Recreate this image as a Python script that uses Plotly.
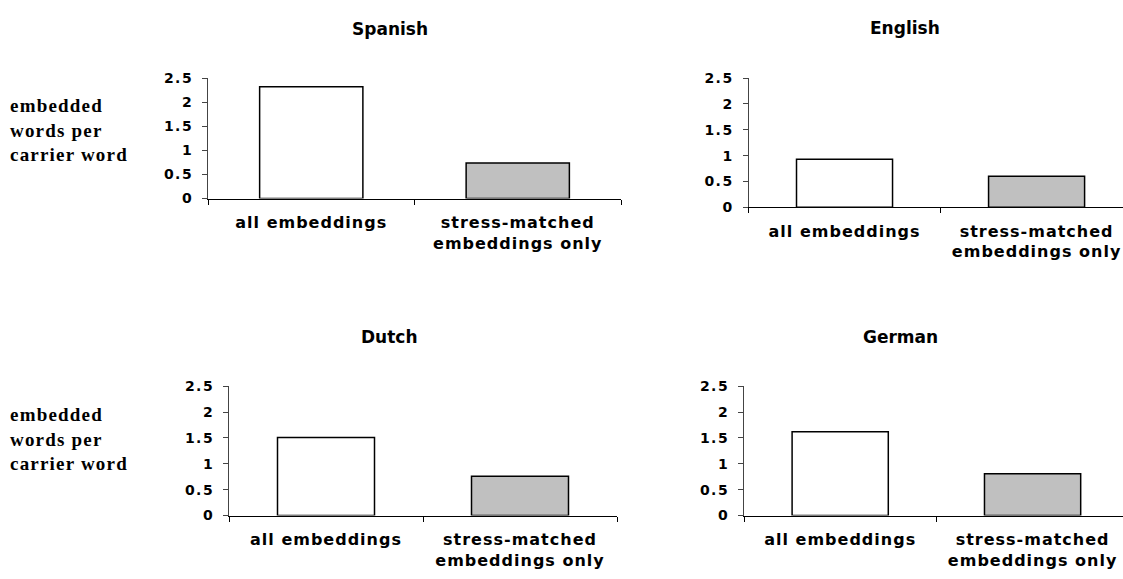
import plotly.graph_objects as go

# ---- data ----
languages = ["Spanish", "English", "Dutch", "German"]
categories = ["all embeddings", "stress-matched<br>embeddings only"]
all_embeddings = [2.32, 0.93, 1.51, 1.62]
stress_matched = [0.74, 0.60, 0.76, 0.81]
y_ticks = [0, 0.5, 1, 1.5, 2, 2.5]
y_label = "embedded<br>words per<br>carrier word"
bar_colors = ["#FFFFFF", "#C0C0C0"]

W, H = 1123, 579

# panel layout in pixels: (x0, x1, y_top, y_bottom, x_range_max)
panels = [
    (208, 621, 72, 196, 1.5),
    (748.5, 1123, 72, 205, 1.45),
    (229, 617, 389, 522, 1.5),
    (744, 1123, 389, 522, 1.47),
]
title_pos = [(389.5, 22), (905, 21), (389.5, 338), (900, 338)]
ylabel_pos = [(8, 125), (8, 443)]

fig = go.Figure()
layout = dict(
    width=W, height=H,
    margin=dict(l=0, r=0, t=0, b=0),
    paper_bgcolor="white", plot_bgcolor="white",
    showlegend=False, bargap=0.5,
    annotations=[],
)

tickfont = dict(family="DejaVu Sans", size=14, color="black", weight="bold")
catfont = dict(family="DejaVu Sans", size=16, color="black", weight="bold")

for i, lang in enumerate(languages):
    n = "" if i == 0 else str(i + 1)
    x0, x1, yt, yb, xmax = panels[i]
    fig.add_trace(go.Bar(
        x=categories,
        y=[all_embeddings[i], stress_matched[i]],
        marker=dict(color=bar_colors, line=dict(color="black", width=1.5)),
        xaxis="x" + n, yaxis="y" + n,
        hoverinfo="skip",
    ))
    layout["xaxis" + n] = dict(
        domain=[x0 / W, x1 / W], anchor="y" + n,
        type="category", range=[-0.5, xmax],
        showline=True, linecolor="black", linewidth=1,
        ticks="outside", tickson="boundaries", ticklen=5, tickcolor="black",
        tickfont=catfont, showgrid=False, zeroline=False, fixedrange=True,
        ticklabelstandoff=9,
    )
    layout["yaxis" + n] = dict(
        domain=[1 - yb / H, 1 - yt / H], anchor="x" + n,
        range=[0, 2.5], tickvals=y_ticks,
        showline=True, linecolor="#444444", linewidth=1,
        ticks="outside", ticklen=5, tickcolor="#444444",
        tickfont=tickfont, showgrid=False, zeroline=False, fixedrange=True,
        ticklabelstandoff=6,
    )
    tx, ty = title_pos[i]
    layout["annotations"].append(dict(
        text=lang, x=tx / W, y=1 - ty / H, xref="paper", yref="paper",
        xanchor="center", yanchor="middle", showarrow=False,
        font=dict(family="DejaVu Sans", size=17, color="black", weight="bold"),
    ))

for (lx, ly) in ylabel_pos:
    layout["annotations"].append(dict(
        text=y_label, x=lx / W, y=1 - ly / H, xref="paper", yref="paper",
        xanchor="left", yanchor="middle", align="left", showarrow=False,
        font=dict(family="Liberation Serif", size=19, color="black", weight="bold"),
    ))

fig.update_layout(**layout)

post = """
document.body.style.margin = '0';
document.body.style.overflow = 'hidden';
var gd = document.getElementById('{plot_id}');
function applySpacing(){
  gd.querySelectorAll('.xaxislayer-above text').forEach(function(t){ t.style.letterSpacing='1px'; });
  gd.querySelectorAll('.yaxislayer-above text').forEach(function(t){ t.style.letterSpacing='1.5px'; });
  gd.querySelectorAll('.annotation-text').forEach(function(t){
    if (t.textContent.indexOf('embedded') >= 0) { t.style.letterSpacing='1.2px'; }
  });
}
applySpacing();
gd.on('plotly_afterplot', applySpacing);
"""

fig.write_html("out.html", post_script=post, config={"displayModeBar": False})
